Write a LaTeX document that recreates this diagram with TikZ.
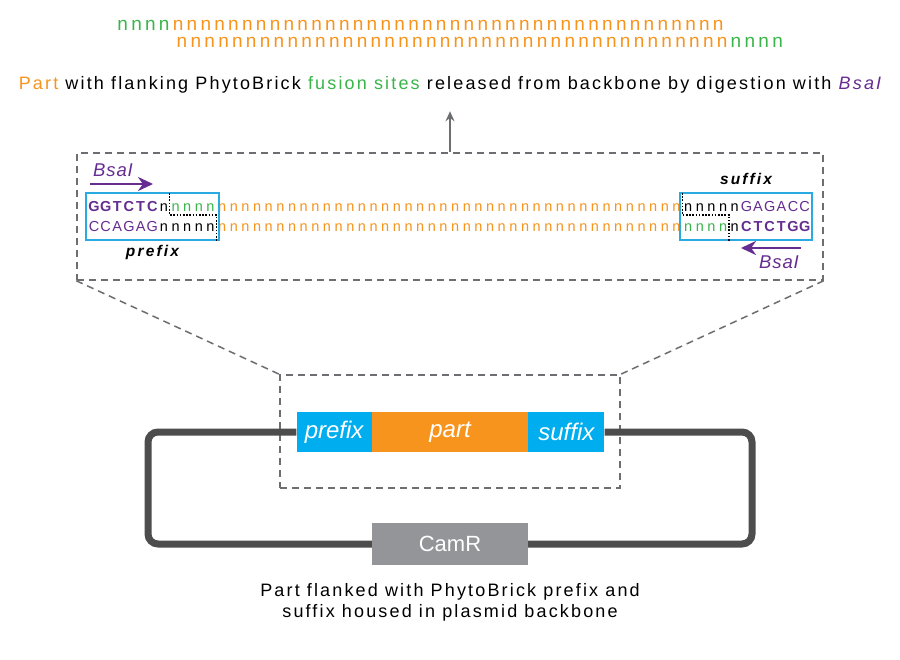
\documentclass[tikz,border=0pt]{standalone}
\usepackage{fontspec}
\setmainfont{Liberation Sans}
\newfontfamily\widefont[LetterSpace=12]{Liberation Sans}
\newfontfamily\tagfont[LetterSpace=14]{Liberation Sans}
\newfontfamily\enzfont[LetterSpace=5]{Liberation Sans}
\usetikzlibrary{arrows.meta,positioning}
\definecolor{partorange}{RGB}{247,148,29}
\definecolor{fusegreen}{RGB}{57,181,74}
\definecolor{enzpurple}{RGB}{102,45,145}
\definecolor{barcyan}{RGB}{0,174,239}
\definecolor{boxcyan}{RGB}{41,171,226}
\definecolor{zoomgray}{RGB}{109,110,113}
\definecolor{backbonegray}{RGB}{77,77,77}
\definecolor{markergray}{RGB}{147,149,152}
\begin{document}
\begin{tikzpicture}[x=1pt, y=-1pt,
    strand/.style={anchor=base, inner sep=0pt, font=\fontsize{19}{19}\selectfont},
    seq/.style={anchor=base, inner sep=0pt, font=\fontsize{14.5}{14.5}\selectfont},
    seqbold/.style={seq, font=\fontsize{14.5}{14.5}\selectfont\bfseries},
    wide/.style={inner sep=0pt, font=\widefont\fontsize{18}{21}\selectfont},
    tag/.style={inner sep=0pt, font=\tagfont\fontsize{15.5}{15.5}\selectfont\bfseries\itshape},
    enz/.style={inner sep=0pt, enzpurple, font=\enzfont\fontsize{18.5}{18.5}\selectfont\itshape},
    zoombox/.style={draw=zoomgray, line width=1.5pt, dash pattern=on 7pt off 5pt},
    seqbox/.style={draw=boxcyan, line width=1.5pt, inner sep=0pt},
    cut/.style={black, line width=1.1pt, dash pattern=on 1.6pt off 1.6pt},
    bar/.style={minimum height=40pt, inner sep=0pt, text=white, font=\fontsize{24}{24}\selectfont\itshape},
    enzarrow/.style={enzpurple, line width=2.8pt, -{Stealth[length=15pt,width=14pt]}},
]
    \useasboundingbox (0,0) rectangle (900,660);
    \fill[white] (0,0) rectangle (900,660);

    % Released part with its fusion site overhangs
    \foreach \k in {0,...,3} \node[strand, fusegreen] (ta\k) at ({122.7+13.85*\k},31) {n};
    \foreach \k in {4,...,43} \node[strand, partorange] (ta\k) at ({122.7+13.85*\k},31) {n};
    \foreach \k in {0,...,39} \node[strand, partorange] (tb\k) at ({182+13.85*\k},48) {n};
    \foreach \k in {40,...,43} \node[strand, fusegreen] (tb\k) at ({182+13.85*\k},48) {n};

    \node[wide] (title) at (450,85) {\textcolor{partorange}{Part} with flanking PhytoBrick
        \textcolor{fusegreen}{fusion sites} released from backbone by digestion with
        \textcolor{enzpurple}{\itshape BsaI}};

    % Zoomed view and zoom lines
    \node[zoombox, minimum width=746pt, minimum height=127pt] (zoombig) at (450,216.5) {};
    \node[zoombox, minimum width=340pt, minimum height=113pt] (zoomsmall) at (450,431.5) {};
    \draw[zoombox] (zoombig.south west) -- (zoomsmall.north west);
    \draw[zoombox] (zoombig.south east) -- (zoomsmall.north east);
    \draw[zoomgray, line width=1.5pt, -{Stealth[length=10pt,width=9pt]}] (zoombig.north) -- ++(0,-41);

    % Top strand
    \foreach \c [count=\k from 0] in {G,G,T,C,T,C} \node[seqbold, enzpurple] (u\k) at ({94+11.65*\k},211.5) {\c};
    \node[seq] (u6) at ({94+11.65*6},211.5) {n};
    \foreach \k in {7,...,10} \node[seq, fusegreen] (u\k) at ({94+11.65*\k},211.5) {n};
    \foreach \k in {11,...,50} \node[seq, partorange] (u\k) at ({94+11.65*\k},211.5) {n};
    \foreach \k in {51,...,55} \node[seq] (u\k) at ({94+11.65*\k},211.5) {n};
    \foreach \c [count=\k from 56] in {G,A,G,A,C,C} \node[seq, enzpurple] (u\k) at ({94+11.65*\k},211.5) {\c};

    % Bottom strand
    \foreach \c [count=\k from 0] in {C,C,A,G,A,G} \node[seq, enzpurple] (v\k) at ({94+11.65*\k},232) {\c};
    \foreach \k in {6,...,10} \node[seq] (v\k) at ({94+11.65*\k},232) {n};
    \foreach \k in {11,...,50} \node[seq, partorange] (v\k) at ({94+11.65*\k},232) {n};
    \foreach \k in {51,...,54} \node[seq, fusegreen] (v\k) at ({94+11.65*\k},232) {n};
    \node[seq] (v55) at ({94+11.65*55},232) {n};
    \foreach \c [count=\k from 56] in {C,T,C,T,G,G} \node[seqbold, enzpurple] (v\k) at ({94+11.65*\k},232) {\c};

    % Prefix and suffix with BsaI cut sites
    \node[seqbox, minimum width=133pt, minimum height=47pt] (prefixbox) at (152.5,216.5) {};
    \node[seqbox, minimum width=132pt, minimum height=47pt] (suffixbox) at (746,216.5) {};
    \draw[cut] (169.7,193) -- (169.7,215) -- (216.3,215) -- (216.3,241);
    \draw[cut] (682.3,193) -- (682.3,215) -- (729,215) -- (729,241);
    \node[tag, below=4pt of prefixbox] (prefixtag) {prefix};
    \node[tag, above=7pt of suffixbox] (suffixtag) {suffix};

    \coordinate (cutL) at (90,184);
    \coordinate (cutR) at (801,248);
    \draw[enzarrow] (cutL) -- ++(63,0);
    \draw[enzarrow] (cutR) -- ++(-60,0);
    \node[enz] (bsaL) at (113,170) {BsaI};
    \node[enz] (bsaR) at (779,262) {BsaI};

    % Plasmid backbone
    \node[bar, fill=partorange, minimum width=156pt] (part) at (450,432) {part};
    \node[bar, fill=barcyan, minimum width=75pt, left=0pt of part] (pre) {prefix};
    \node[bar, fill=barcyan, minimum width=76pt, right=0pt of part] (suf) {suffix};
    \node[fill=markergray, text=white, minimum width=156pt, minimum height=42pt,
        font=\fontsize{22}{22}\selectfont] (camr) at (450,544) {CamR};
    \draw[backbonegray, line width=7pt, rounded corners=10pt] (pre.west) -| (148,544) -- (camr.west);
    \draw[backbonegray, line width=7pt, rounded corners=10pt] (suf.east) -| (752,544) -- (camr.east);

    \node[wide, align=center] (caption) at (450,602)
        {Part flanked with PhytoBrick prefix and\\suffix housed in plasmid backbone};
\end{tikzpicture}
\end{document}
